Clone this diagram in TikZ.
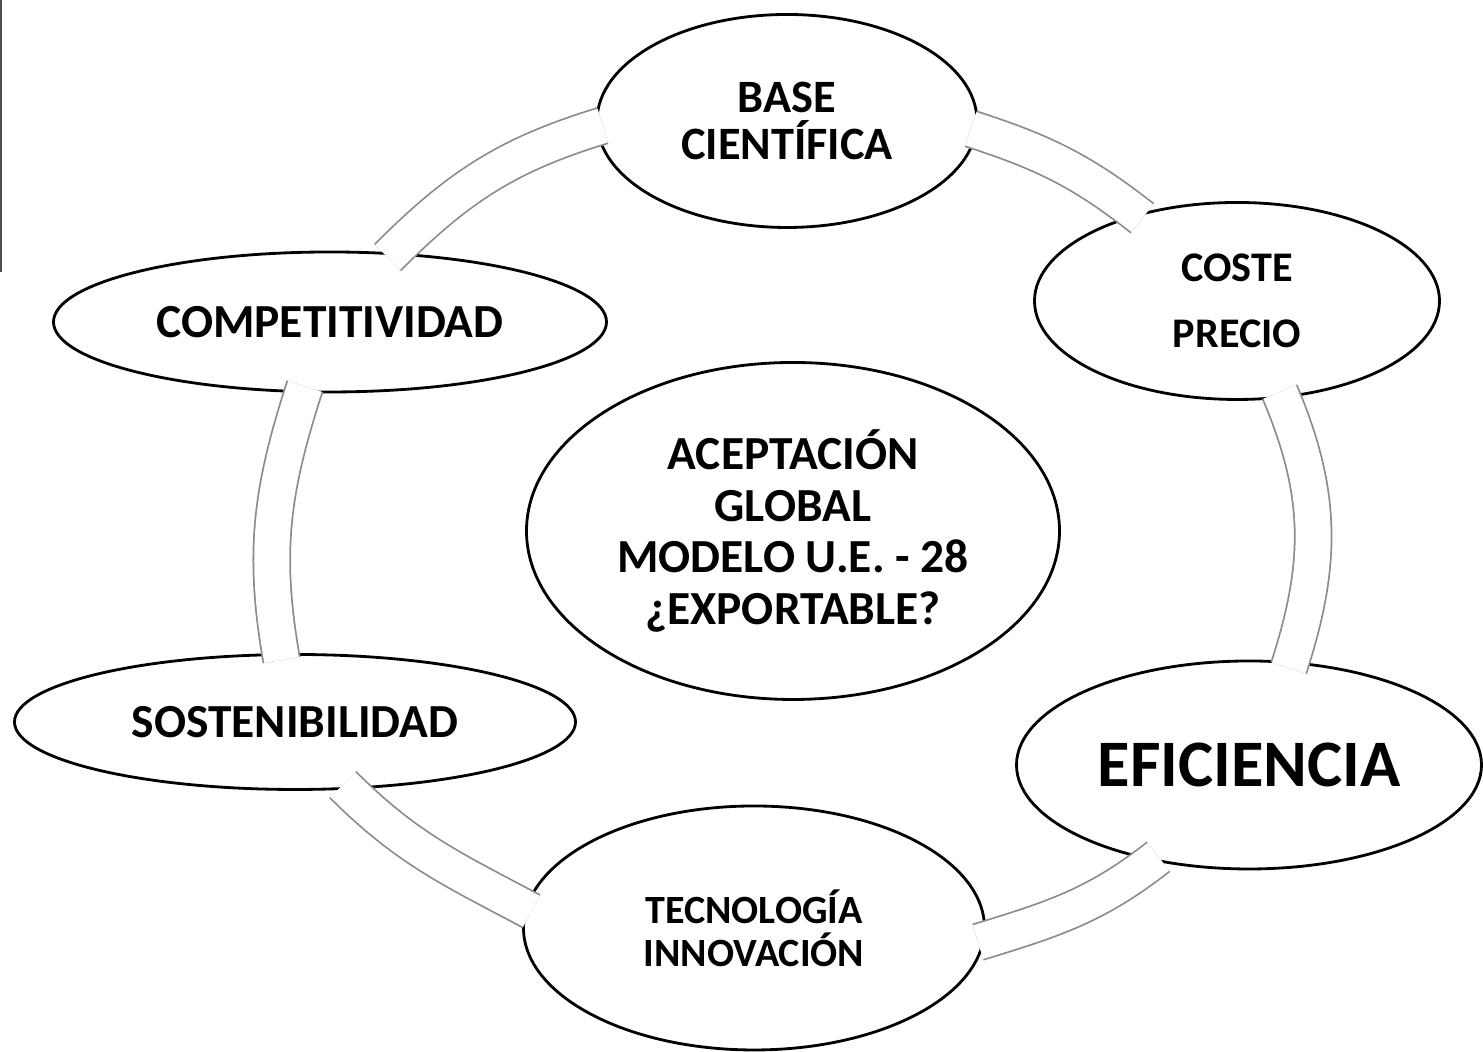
\documentclass[tikz,border=0pt]{standalone}
\usepackage{fontspec}
\setmainfont{Carlito}
\usetikzlibrary{shapes.geometric}

\begin{document}
\begin{tikzpicture}[
  elip/.style={draw=black, line width=0.8pt, ellipse, fill=white, inner sep=0pt, align=center},
  band/.style={draw=black!45, line width=0.5pt, double=white, double distance=0.35cm, shorten <=-2pt, shorten >=-2pt}
]
\useasboundingbox (0,0) rectangle (14.83,10.52);
\fill [black!70] (0,10.52) rectangle (0.025,7.8);
\node [elip, minimum width=3.80cm, minimum height=2.13cm, font=\bfseries\fontsize{13.2}{13.6}\selectfont] (base) at (7.87,9.31) {BASE\\CIENTÍFICA};
\node [elip, minimum width=4.05cm, minimum height=1.97cm, font=\bfseries\fontsize{12}{18.8}\selectfont] (coste) at (12.37,7.51) {COSTE\\PRECIO};
\node [elip, minimum width=5.53cm, minimum height=1.40cm, font=\bfseries\fontsize{13.5}{16}\selectfont] (compet) at (3.30,7.30) {COMPETITIVIDAD};
\node [elip, minimum width=5.33cm, minimum height=3.37cm, font=\bfseries\fontsize{13.5}{14.65}\selectfont] (acept) at (7.93,5.21) {ACEPTACIÓN\\GLOBAL\\MODELO U.E. - 28\\¿EXPORTABLE?};
\node [elip, minimum width=5.61cm, minimum height=1.35cm, font=\bfseries\fontsize{13.5}{16}\selectfont] (sosten) at (2.95,3.30) {SOSTENIBILIDAD};
\node [elip, minimum width=4.65cm, minimum height=2.08cm, font=\bfseries\fontsize{18.9}{22}\selectfont] (efic) at (12.49,2.87) {EFICIENCIA};
\node [elip, minimum width=4.61cm, minimum height=2.44cm, font=\bfseries\fontsize{11.4}{12.2}\selectfont] (tecno) at (7.54,1.24) {TECNOLOGÍA\\INNOVACIÓN};
\draw [band] (compet.48) to [out=45, in=197] (base.182);
\draw [band] (base.-3) to [out=-18, in=142] (coste.139);
\draw [band] (coste.-65) to [out=-67, in=72] (efic.68);
\draw [band] (efic.225) to [out=218, in=17] (tecno.-3);
\draw [band] (tecno.175) to [out=152, in=-45] (sosten.-52);
\draw [band] (sosten.102) to [out=100, in=-108] (compet.249);
\end{tikzpicture}
\end{document}
